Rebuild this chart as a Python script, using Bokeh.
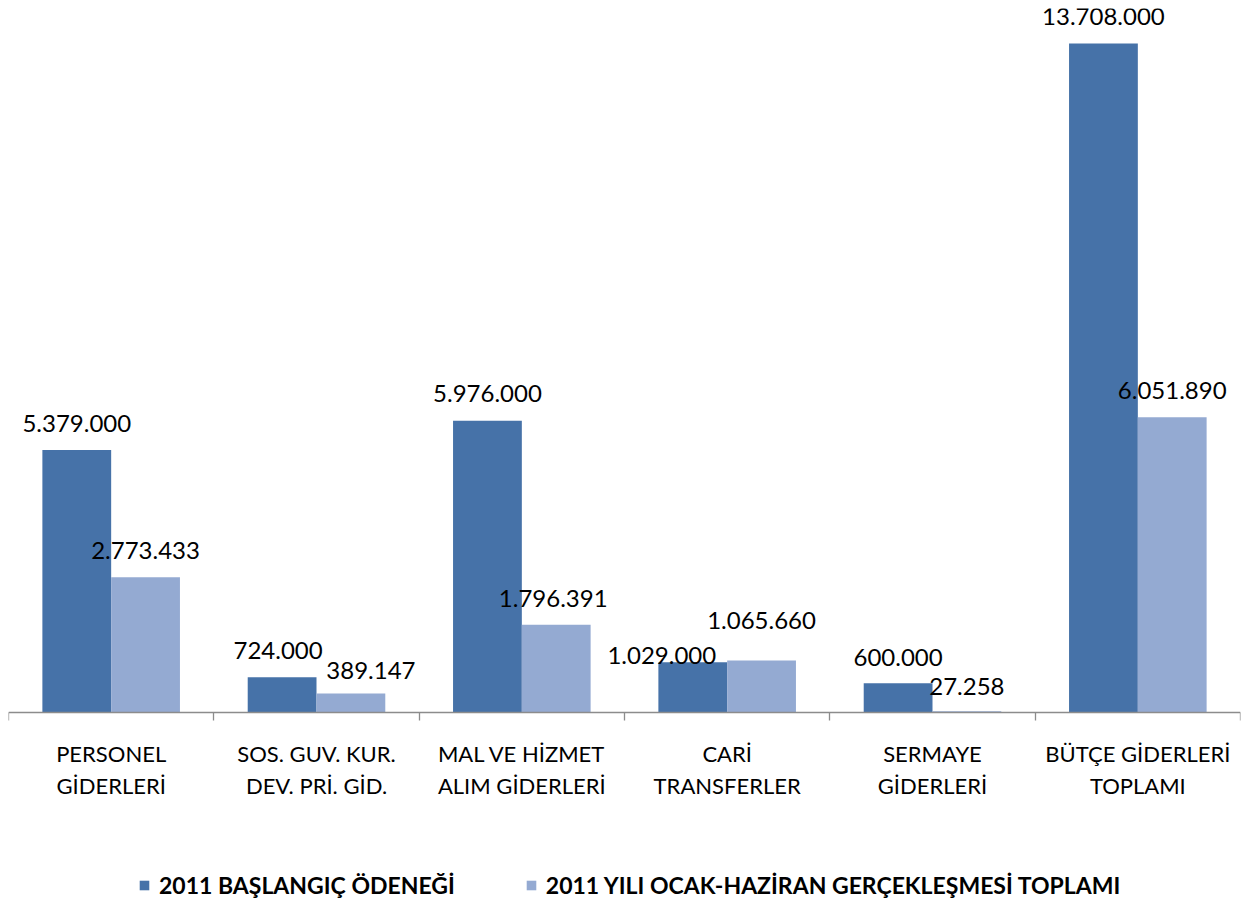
from bokeh.plotting import figure
from bokeh.models import ColumnDataSource, FixedTicker, Range1d, Legend, LegendItem, LinearAxis
from bokeh.core.properties import value
from bokeh.embed import file_html
from bokeh.resources import INLINE

categories = ["PERSONEL\nGİDERLERİ", "SOS. GUV. KUR.\nDEV. PRİ. GİD.", "MAL VE HİZMET\nALIM GİDERLERİ",
              "CARİ\nTRANSFERLER", "SERMAYE\nGİDERLERİ", "BÜTÇE GİDERLERİ\nTOPLAMI"]
series_names = ["2011 BAŞLANGIÇ ÖDENEĞİ", "2011 YILI OCAK-HAZİRAN GERÇEKLEŞMESİ TOPLAMI"]
baslangic = [5379000, 724000, 5976000, 1029000, 600000, 13708000]
gerceklesme = [2773433, 389147, 1796391, 1065660, 27258, 6051890]
baslangic_labels = ["5.379.000", "724.000", "5.976.000", "1.029.000", "600.000", "13.708.000"]
gerceklesme_labels = ["2.773.433", "389.147", "1.796.391", "1.065.660", "27.258", "6.051.890"]

# label placement tweaks (pixels), mimicking the original's collision avoidance
dark_dx = [0, -4, 0, -31, 0, 0]
dark_dy = [-27, -27, -27, -7, -26, -27]
light_dx = [0, 20, -3, 0, 0, 0]
light_dy = [-27, -23, -26, -40, -25, -27]

DARK = "#4672A8"
LIGHT = "#94AAD2"
FONT = "Lato"

PX_PER_UNIT = 48.8e-6  # pixels per value unit
idx = list(range(len(categories)))
bw = 0.335
src1 = ColumnDataSource(dict(x=[i + 0.5 - bw / 2 for i in idx], top=baslangic, lab=baslangic_labels,
                             dx=dark_dx, dy=dark_dy))
src2 = ColumnDataSource(dict(x=[i + 0.5 + bw / 2 for i in idx], top=gerceklesme, lab=gerceklesme_labels,
                             dx=light_dx, dy=light_dy))

p = figure(frame_width=1232, frame_height=892, output_backend="svg", toolbar_location=None,
           x_range=Range1d(0, len(categories)),
           y_range=Range1d(-188 / PX_PER_UNIT, 704 / PX_PER_UNIT),
           min_border_left=8, min_border_right=3, min_border_top=8, min_border_bottom=0,
           x_axis_location=None, y_axis_location=None)
p.outline_line_color = None
p.grid.visible = False
p.background_fill_color = "white"

r1 = p.vbar(x="x", top="top", width=bw, source=src1, fill_color=DARK, line_color=None)
r2 = p.vbar(x="x", top="top", width=bw, source=src2, fill_color=LIGHT, line_color=None)

for src in (src1, src2):
    p.text(x="x", y="top", text="lab", source=src, x_offset="dx", y_offset="dy",
           text_align="center", text_baseline="middle", text_font=value(FONT),
           text_font_size="24px", text_color="black")

ax = LinearAxis(fixed_location=0)
ax.ticker = FixedTicker(ticks=[i + 0.5 for i in idx], minor_ticks=list(range(len(categories) + 1)))
ax.major_label_overrides = {i + 0.5: c for i, c in enumerate(categories)}
ax.axis_line_color = "#8C8C8C"
ax.axis_line_width = 1.3
ax.major_tick_line_color = None
ax.minor_tick_line_color = "#8C8C8C"
ax.minor_tick_line_width = 1.3
ax.minor_tick_in = 0
ax.minor_tick_out = 8
ax.major_label_standoff = 19
ax.major_label_text_font = FONT
ax.major_label_text_font_size = "22px"
ax.major_label_text_color = "black"
ax.major_label_text_line_height = 1.2
p.add_layout(ax, "below")

legend = Legend(items=[LegendItem(label=series_names[0], renderers=[r1]),
                       LegendItem(label=series_names[1], renderers=[r2])],
                orientation="horizontal", location=(130, 1),
                glyph_width=12, glyph_height=12, label_standoff=9, spacing=70,
                label_text_font=FONT, label_text_font_style="bold", label_text_font_size="23px",
                label_text_color="black",
                border_line_color=None, background_fill_alpha=0, margin=0, padding=0)
legend.label_height = 20
p.add_layout(legend)

open("out.html", "w").write(file_html(p, INLINE))
